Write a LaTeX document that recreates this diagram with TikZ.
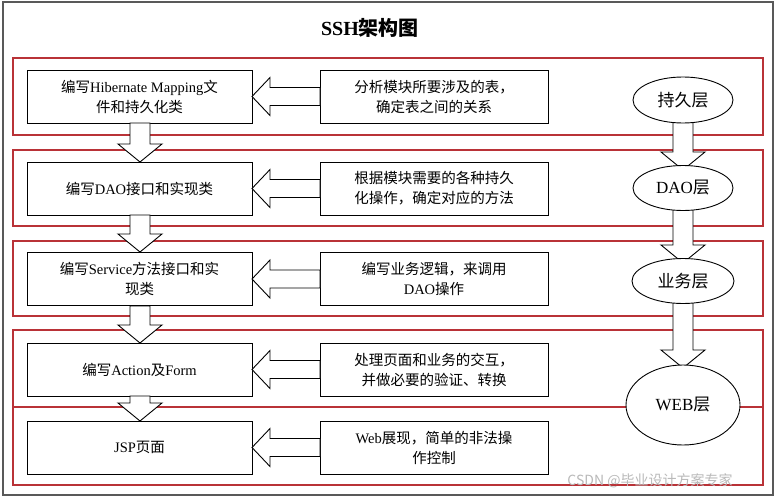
\documentclass[tikz,border=0pt]{standalone}
\usepackage{fontspec}
\setmainfont{Liberation Serif}
\newfontfamily\cjk{Noto Sans CJK SC}
\newcommand\zh[1]{{\cjk #1}}
\usetikzlibrary{shapes.geometric}
\definecolor{bandred}{RGB}{185,50,55}
\tikzset{
  band/.style={draw=bandred,line width=1.2pt,fill=white},
  box/.style={draw=black,line width=0.9pt,fill=white,align=center,minimum height=53,minimum width=225,inner sep=0pt,font=\fontsize{14.5}{20}\selectfont},
  lay/.style={ellipse,draw=black,line width=0.9pt,fill=white,inner sep=0pt,font=\fontsize{17}{19}\selectfont},
  harrow/.style={draw=black,line width=0.9pt,fill=white,line join=miter}
}
\newcommand\darrow[3]{\draw[harrow] (#1-10,#2)--(#1+10,#2)--(#1+10,#3-18)--(#1+22,#3-18)--(#1,#3)--(#1-22,#3-18)--(#1-10,#3-18)--cycle;}
\newcommand\larrow[3]{\draw[harrow] (#2,#1-9)--(#2,#1+9)--(#3+18,#1+9)--(#3+18,#1+19)--(#3,#1)--(#3+18,#1-19)--(#3+18,#1-9)--cycle;}
\begin{document}
\begin{tikzpicture}[x=1pt,y=-1pt]
\useasboundingbox (0,0) rectangle (777,498);
\fill[white] (0,0) rectangle (777,498);
\draw[gray!70!black,line width=1.5pt] (3,2) rectangle (773,495);
\node[font=\bfseries\fontsize{20}{22}\selectfont] (title) at (370,28) {SSH\zh{架构图}};
% bands
\draw[band] (13,58) rectangle (763,135);
\draw[band] (13,150) rectangle (763,226);
\draw[band] (13,241) rectangle (763,316);
\draw[band] (13,330) rectangle (763,407);
\draw[band] (13,407) rectangle (763,485);
% left boxes
\node[box] (l1) at (139.5,96.5) {\zh{编写}Hibernate Mapping\zh{文}\\\zh{件和持久化类}};
\node[box] (l2) at (139.5,188.5) {\zh{编写}DAO\zh{接口和实现类}};
\node[box] (l3) at (139.5,279) {\zh{编写}Service\zh{方法接口和实}\\\zh{现类}};
\node[box] (l4) at (139.5,369.5) {\zh{编写}Action\zh{及}Form};
\node[box] (l5) at (139.5,447.5) {JSP\zh{页面}};
% right boxes
\node[box,minimum width=228] (r1) at (434,96.5) {\zh{分析模块所要涉及的表，}\\\zh{确定表之间的关系}};
\node[box,minimum width=228] (r2) at (434,188.5) {\zh{根据模块需要的各种持久}\\\zh{化操作，确定对应的方法}};
\node[box,minimum width=228] (r3) at (434,279) {\zh{编写业务逻辑，来调用}\\DAO\zh{操作}};
\node[box,minimum width=228] (r4) at (434,369.5) {\zh{处理页面和业务的交互，}\\\zh{并做必要的验证、转换}};
\node[box,minimum width=228] (r5) at (434,447.5) {Web\zh{展现，简单的非法操}\\\zh{作控制}};
% left arrows
\larrow{96.5}{320}{252}
\larrow{188.5}{320}{252}
\larrow{279}{320}{252}
\larrow{369.5}{320}{252}
\larrow{447.5}{320}{252}
% down arrows
\darrow{140}{123}{162}
\darrow{140}{215}{252}
\darrow{140}{306}{343}
\darrow{140}{396}{421}
% ellipses
\darrow{683}{115}{170}
\darrow{683}{205}{263}
\darrow{683}{298}{368}
\node[lay,minimum width=100,minimum height=46] (e1) at (683,100) {\zh{持久层}};
\node[lay,minimum width=100,minimum height=45] (e2) at (683,188) {DAO\zh{层}};
\node[lay,minimum width=102,minimum height=45] (e3) at (683,281) {\zh{业务层}};
\node[lay,minimum width=114,minimum height=80] (e4) at (683,405) {WEB\zh{层}};
\node[font=\cjk\fontsize{14}{16}\selectfont,text=gray!55] (wm) at (650,481) {CSDN @\zh{毕业设计方案专家}};
\end{tikzpicture}
\end{document}
